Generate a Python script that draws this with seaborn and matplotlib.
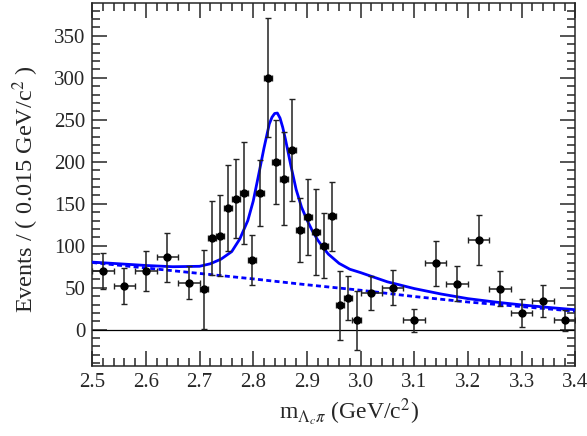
import numpy as np
import pandas as pd
import matplotlib
matplotlib.use("Agg")
import matplotlib.pyplot as plt
from matplotlib.ticker import MultipleLocator
import seaborn as sns

# data points
mass = [2.52, 2.56, 2.60, 2.64, 2.68,
        2.7075, 2.7225, 2.7375, 2.7525, 2.7675, 2.7825, 2.7975, 2.8125,
        2.8275, 2.8425, 2.8575, 2.8725, 2.8875, 2.9025, 2.9175, 2.9325,
        2.9475, 2.9625, 2.9775, 2.9925,
        3.02, 3.06, 3.10, 3.14, 3.18, 3.22, 3.26, 3.30, 3.34, 3.38]
events = [70, 52, 70, 86, 56,
          48, 109, 112, 145, 156, 163, 83, 163,
          300, 200, 180, 214, 119, 134, 116, 100,
          135, 29, 38, 11,
          44, 50, 11, 79, 55, 107, 49, 20, 34, 11]
events_err = [21, 21, 24, 29, 20,
              47, 44, 48, 51, 47, 61, 30, 39,
              71, 50, 55, 61, 38, 45, 51, 39,
              41, 41, 26, 35,
              20, 21, 14, 27, 21, 30, 21, 17, 19, 12]
mass_err = [0.02] * 5 + [0.0075] * 20 + [0.02] * 10

# fit curves
fit_x = [2.50, 2.55, 2.60, 2.65, 2.70, 2.72, 2.74, 2.76, 2.775, 2.79,
         2.80, 2.81, 2.82, 2.83, 2.835, 2.84, 2.845, 2.85, 2.855, 2.86,
         2.87, 2.88, 2.89, 2.90, 2.91, 2.92, 2.93, 2.94, 2.96, 2.98,
         3.00, 3.05, 3.10, 3.15, 3.20, 3.25, 3.30, 3.35, 3.40]
fit_y = [80.5, 78.5, 76.5, 75, 75.5, 78.5, 84, 93, 108, 130,
         153, 184, 216, 245, 253, 257.5, 258, 252, 241, 227,
         196, 167, 146, 131, 118, 107, 98, 90, 79, 72,
         68, 57, 49, 42.5, 37, 33, 29.5, 26.5, 23.8]
bkg_x = [2.5, 2.6, 2.7, 2.8, 2.9, 3.0, 3.1, 3.2, 3.3, 3.4]
bkg_y = [80, 73.5, 67, 60.5, 53.5, 47, 39.5, 33, 27.5, 22]

sns.set_style("ticks")
plt.rcParams['font.family'] = ['Liberation Serif', 'DejaVu Serif']
plt.rcParams['mathtext.fontset'] = 'stix'

fig = plt.figure(figsize=(5.87, 4.36), dpi=100)
ax = fig.add_axes([0.157, 0.161, 0.823, 0.832])

blue = '#0000ff'
ax.axhline(0, color='black', lw=0.9, zorder=1)
sns.lineplot(data=pd.DataFrame({'x': bkg_x, 'y': bkg_y}), x='x', y='y', ax=ax,
             color=blue, lw=2.0, linestyle=(0, (1.8, 1.2)), sort=False,
             estimator=None, zorder=2)
sns.lineplot(data=pd.DataFrame({'x': fit_x, 'y': fit_y}), x='x', y='y', ax=ax,
             color=blue, lw=2.0, sort=False, estimator=None, zorder=3)
ax.errorbar(mass, events, yerr=events_err, xerr=mass_err, fmt='o',
            color='black', ecolor='#222222', elinewidth=1.1, capsize=2,
            capthick=1.0, markersize=5, zorder=4)

ax.set_xlim(2.5, 3.4)
ax.set_ylim(-43, 389)
ax.xaxis.set_major_locator(MultipleLocator(0.1))
ax.xaxis.set_minor_locator(MultipleLocator(0.02))
ax.yaxis.set_major_locator(MultipleLocator(50))
ax.yaxis.set_minor_locator(MultipleLocator(10))
ax.tick_params(which='both', direction='in', top=True, right=True,
               labelsize=15, width=1.1)
ax.tick_params(which='major', length=11, pad=5)
ax.tick_params(which='minor', length=6)
ax.set_xticklabels([f'{v:.1f}' for v in ax.get_xticks()])
for s in ax.spines.values():
    s.set_linewidth(1.1)

ax.set_xlabel(r'm$_{\Lambda_c\pi}$ (GeV/c$^2$)', fontsize=17, va='center')
ax.set_ylabel(r'Events / ( 0.015 GeV/c$^2$ )', fontsize=17.5, va='center')
ax.xaxis.set_label_coords(0.532, -0.128)
ax.yaxis.set_label_coords(-0.138, 0.488)
ax.grid(False)

fig.savefig('out.png', dpi=100)
